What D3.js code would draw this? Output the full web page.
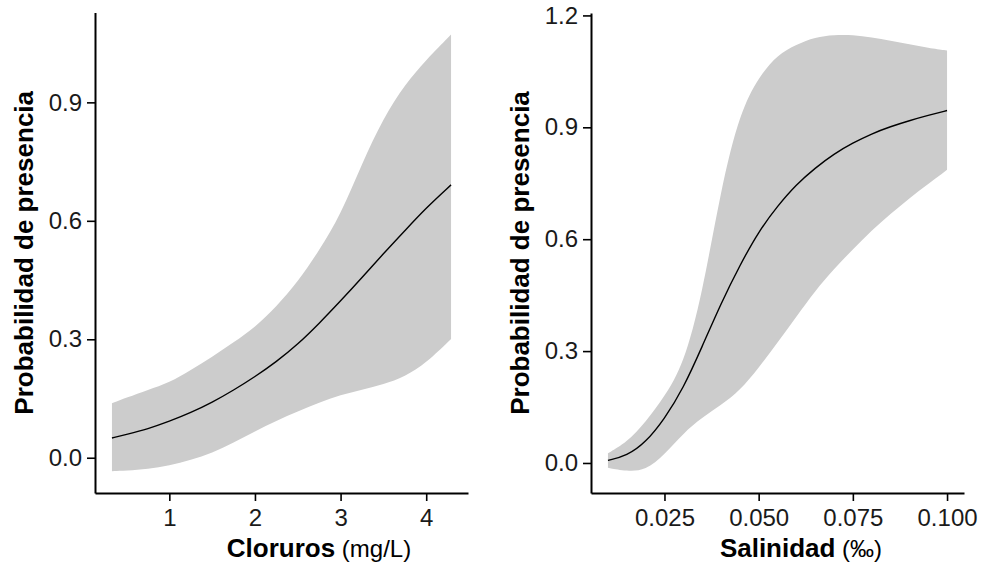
<!DOCTYPE html>
<html>
<head>
<meta charset="utf-8">
<script src="https://cdn.jsdelivr.net/npm/d3@7"></script>
<style>
  html, body { margin: 0; padding: 0; background: #fff; }
  svg { display: block; }
</style>
</head>
<body>
<svg id="chart" width="982" height="565"></svg>
<script>
// ---- Data ----
// Left panel: Cloruros (mg/L)
const clX     = [0.33, 0.5, 0.75, 1, 1.25, 1.5, 1.75, 2, 2.25, 2.5, 2.75, 3, 3.25, 3.5, 3.75, 4, 4.29];
const clFit   = [0.050, 0.059, 0.073, 0.092, 0.114, 0.140, 0.171, 0.205, 0.243, 0.287, 0.340, 0.397, 0.456, 0.517, 0.575, 0.633, 0.691];
const clLower = [-0.034, -0.033, -0.029, -0.020, -0.006, 0.012, 0.038, 0.067, 0.094, 0.117, 0.140, 0.159, 0.172, 0.186, 0.205, 0.240, 0.301];
const clUpper = [0.138, 0.152, 0.172, 0.190, 0.222, 0.255, 0.292, 0.330, 0.383, 0.445, 0.525, 0.615, 0.745, 0.860, 0.945, 1.008, 1.072];

// Right panel: Salinidad (‰)
const saX     = [0.010, 0.015, 0.020, 0.025, 0.030, 0.035, 0.040, 0.045, 0.050, 0.055, 0.060, 0.065, 0.070, 0.075, 0.080, 0.085, 0.090, 0.095, 0.100];
const saFit   = [0.007, 0.019, 0.055, 0.118, 0.200, 0.312, 0.428, 0.530, 0.621, 0.689, 0.747, 0.791, 0.829, 0.858, 0.883, 0.902, 0.918, 0.932, 0.945];
const saLower = [-0.013, -0.022, -0.020, 0.022, 0.080, 0.122, 0.155, 0.194, 0.255, 0.323, 0.392, 0.462, 0.520, 0.573, 0.624, 0.668, 0.710, 0.748, 0.786];
const saUpper = [0.026, 0.055, 0.110, 0.178, 0.262, 0.450, 0.737, 0.939, 1.035, 1.095, 1.122, 1.142, 1.148, 1.148, 1.141, 1.132, 1.123, 1.113, 1.106];

// Tick labels
const clXTicks = [1, 2, 3, 4];
const clYTicks = [0, 0.3, 0.6, 0.9];
const saXTicks = [0.025, 0.05, 0.075, 0.1];
const saYTicks = [0, 0.3, 0.6, 0.9, 1.2];

const yTitle = "Probabilidad de presencia";
const clTitle = ["Cloruros", " (mg/L)"];
const saTitle = ["Salinidad", " (‰)"];

// ---- Drawing ----
const svg = d3.select("#chart");
const FONT = "'Liberation Sans', Arial, Helvetica, sans-serif";

function expand(lo, hi) { const d = (hi - lo) * 0.05; return [lo - d, hi + d]; }

function panel(cfg) {
  const xs = d3.scaleLinear().domain(expand(d3.min(cfg.x), d3.max(cfg.x))).range([cfg.left, cfg.right]);
  const ys = d3.scaleLinear().domain(expand(d3.min(cfg.lower), d3.max(cfg.upper))).range([cfg.bottom, cfg.top]);
  const rows = cfg.x.map((v, i) => ({ x: v, fit: cfg.fit[i], lo: cfg.lower[i], hi: cfg.upper[i] }));

  const g = svg.append("g");

  g.append("path")
    .datum(rows)
    .attr("fill", "#cccccc")
    .attr("d", d3.area().curve(d3.curveBasis)
      .x(d => xs(d.x)).y0(d => ys(d.lo)).y1(d => ys(d.hi)));

  g.append("path")
    .datum(rows)
    .attr("fill", "none")
    .attr("stroke", "#000")
    .attr("stroke-width", 1.4)
    .attr("d", d3.line().curve(d3.curveBasis)
      .x(d => xs(d.x)).y(d => ys(d.fit)));

  const xAxis = g.append("g")
    .attr("transform", `translate(0,${cfg.bottom})`)
    .call(d3.axisBottom(xs).tickValues(cfg.xTicks).tickFormat(cfg.xFmt)
      .tickSize(8).tickSizeOuter(0).tickPadding(8));
  const yAxis = g.append("g")
    .attr("transform", `translate(${cfg.left},0)`)
    .call(d3.axisLeft(ys).tickValues(cfg.yTicks).tickFormat(d3.format(".1f"))
      .tickSize(8).tickSizeOuter(0).tickPadding(5));

  [xAxis, yAxis].forEach(a => {
    a.select(".domain").attr("stroke", "#000").attr("stroke-width", 2);
    a.selectAll(".tick line").attr("stroke", "#000").attr("stroke-width", 1.6);
    a.selectAll(".tick text").attr("fill", "#1a1a1a")
      .style("font-family", FONT).style("font-size", "24px");
  });

  // y title
  g.append("text")
    .attr("transform", `translate(${cfg.yTitleX},${(cfg.top + cfg.bottom) / 2}) rotate(-90)`)
    .attr("text-anchor", "middle")
    .style("font-family", FONT).style("font-size", "26px").style("font-weight", "bold")
    .attr("fill", "#000")
    .text(yTitle);

  // x title
  const t = g.append("text")
    .attr("x", cfg.xTitleX).attr("y", 557)
    .attr("text-anchor", "middle")
    .style("font-family", FONT).attr("fill", "#000");
  t.append("tspan").style("font-weight", "bold").style("font-size", "26px").text(cfg.xTitle[0]);
  t.append("tspan").style("font-size", "24px").text(cfg.xTitle[1]);
}

panel({
  x: clX, fit: clFit, lower: clLower, upper: clUpper,
  left: 95, right: 468, top: 12.6, bottom: 493,
  xTicks: clXTicks, yTicks: clYTicks, xFmt: d3.format("d"),
  yTitleX: 33, xTitleX: 319, xTitle: clTitle
});

panel({
  x: saX, fit: saFit, lower: saLower, upper: saUpper,
  left: 591, right: 964, top: 13, bottom: 493,
  xTicks: saXTicks, yTicks: saYTicks, xFmt: d3.format(".3f"),
  yTitleX: 529, xTitleX: 801, xTitle: saTitle
});
</script>
</body>
</html>
